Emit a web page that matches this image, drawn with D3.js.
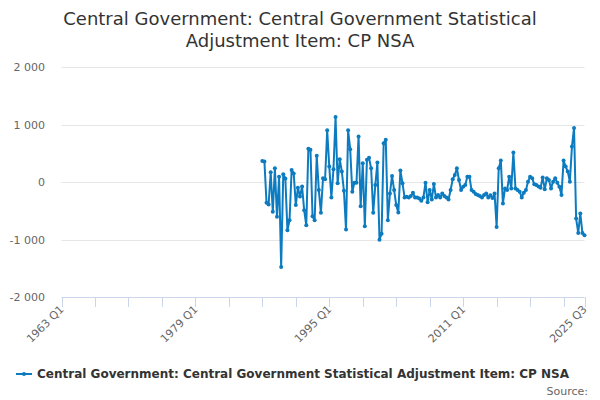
<!DOCTYPE html>
<html><head><meta charset="utf-8">
<script src="https://cdn.jsdelivr.net/npm/d3@7"></script>
<style>body{margin:0;background:#fff} svg{font-family:"DejaVu Sans",Verdana,sans-serif}</style>
</head><body><svg id="c" width="600" height="400"></svg>
<script>
const titleLines = ["Central Government: Central Government Statistical", "Adjustment Item: CP NSA"];
const seriesName = "Central Government: Central Government Statistical Adjustment Item: CP NSA";
const sourceText = "Source:";
const firstPeriod = "1987 Q1";
const values = [
  367, 355, -361, -390,
  169, -519, 239, -606,
  93, -1480, 134, 60,
  -840, -665, 210, 150,
  -402, -100, -250, -80,
  -490, -752, 577, 560,
  -595, -665, 455, -140,
  -536, 64, 47, 898,
  268, -268, 222, 1131,
  -23, 397, 181, -152,
  -828, 898, 571, -169,
  -12, -12, 793, -420,
  326, -770, 385, 420,
  239, -536, -52, 338,
  -1003, -898, 676, 735,
  -665, -198, 105, -140,
  -402, -530, 198, -23,
  -268, -256, -268, -245,
  -186, -268, -268, -285,
  -326, -268, -12, -350,
  -140, -303, -35, -268,
  -227, -268, -198, -245,
  -268, -303, -140, 47,
  122, 239, 35, -140,
  -82, -52, 93, 93,
  -140, -169, -210, -227,
  -245, -268, -227, -200,
  -268, -230, -280, -198,
  -781, 239, 373, -373,
  -111, -140, 93, -111,
  513, -111, -140, -169,
  -268, -187, -140, 6,
  93, 64, -40, -50,
  -80, -100, 80, -128,
  64, 35, -111, 6,
  64, -12, -82, -227,
  373, 268, 181, 6,
  618, 939, -636, -886,
  -548, -886, -927
];
const xAxisStart = "1963 Q1";
const xAxisEnd = "2025 Q3";
const xTickPeriods = ["1963 Q1","1967 Q1","1971 Q1","1975 Q1","1979 Q1","1983 Q1","1987 Q1","1991 Q1","1995 Q1","1999 Q1","2003 Q1","2007 Q1","2011 Q1","2015 Q1","2019 Q1","2023 Q1","2025 Q3"];
const xLabelPeriods = ["1963 Q1","1979 Q1","1995 Q1","2011 Q1","2025 Q3"];
const yTicks = [-2000, -1000, 0, 1000, 2000];

const idx = p => { const m = p.match(/(\d{4}) Q(\d)/); return (+m[1]) * 4 + (+m[2] - 1); };
const i0 = idx(firstPeriod);
const data = values.map((v, i) => ({ q: i0 + i, v }));

const svg = d3.select("#c");
const x = d3.scaleLinear().domain([idx(xAxisStart), idx(xAxisEnd)]).range([61.5, 584.5]);
const y = d3.scaleLinear().domain([-2000, 2000]).range([297, 67]);
const loc = d3.formatLocale({decimal: ".", thousands: " ", grouping: [3], currency: ["", ""], minus: "-"});
const fmt = loc.format(",");

// title
svg.append("text").attr("x", 300).attr("y", 25).attr("text-anchor", "middle")
  .attr("fill", "#333").style("font-size", "18px")
  .selectAll("tspan").data(titleLines).join("tspan")
  .attr("x", 300).attr("dy", (d, i) => i ? 22 : 0).text(d => d);

// gridlines
svg.append("g").selectAll("line").data(yTicks.filter(t => t !== -2000)).join("line")
  .attr("x1", 61.5).attr("x2", 584.5).attr("y1", d => Math.round(y(d)) + 0.5).attr("y2", d => Math.round(y(d)) + 0.5)
  .attr("stroke", "#e6e6e6").attr("stroke-width", 1);

// y labels
svg.append("g").selectAll("text").data(yTicks).join("text")
  .attr("x", 45).attr("y", d => y(d) + 4).attr("text-anchor", "end")
  .attr("fill", "#666").style("font-size", "11px").text(d => fmt(d));

// x axis line and ticks
const xa = svg.append("g");
xa.append("line").attr("x1", 61.5).attr("x2", 584.5).attr("y1", 297.5).attr("y2", 297.5).attr("stroke", "#ccd6eb");
xa.selectAll("line.t").data(xTickPeriods).join("line").attr("class", "t")
  .attr("x1", d => Math.round(x(idx(d))) + 0.5).attr("x2", d => Math.round(x(idx(d))) + 0.5)
  .attr("y1", 297).attr("y2", 307).attr("stroke", "#ccd6eb");
xa.selectAll("text").data(xLabelPeriods).join("text")
  .attr("text-anchor", "end").attr("fill", "#666").style("font-size", "11px")
  .attr("transform", d => `translate(${x(idx(d)) + 3},${310}) rotate(-45)`)
  .text(d => d);

// line
const line = d3.line().x(d => x(d.q)).y(d => y(d.v));
svg.append("path").datum(data).attr("d", line).attr("fill", "none")
  .attr("stroke", "#0c7bc0").attr("stroke-width", 2).attr("stroke-linejoin", "round");
svg.append("g").selectAll("circle").data(data).join("circle")
  .attr("cx", d => x(d.q)).attr("cy", d => y(d.v)).attr("r", 2).attr("fill", "#0c7bc0");

// legend
const lg = svg.append("g");
lg.append("line").attr("x1", 16).attr("x2", 32).attr("y1", 374).attr("y2", 374).attr("stroke", "#0c7bc0").attr("stroke-width", 2);
lg.append("circle").attr("cx", 24).attr("cy", 374).attr("r", 2).attr("fill", "#0c7bc0");
lg.append("text").attr("x", 37).attr("y", 378).attr("fill", "#333").style("font-size", "12px").style("font-weight", "bold").text(seriesName);
svg.append("text").attr("x", 588).attr("y", 395).attr("text-anchor", "end").attr("fill", "#666").style("font-size", "11px").text(sourceText);
</script></body></html>
